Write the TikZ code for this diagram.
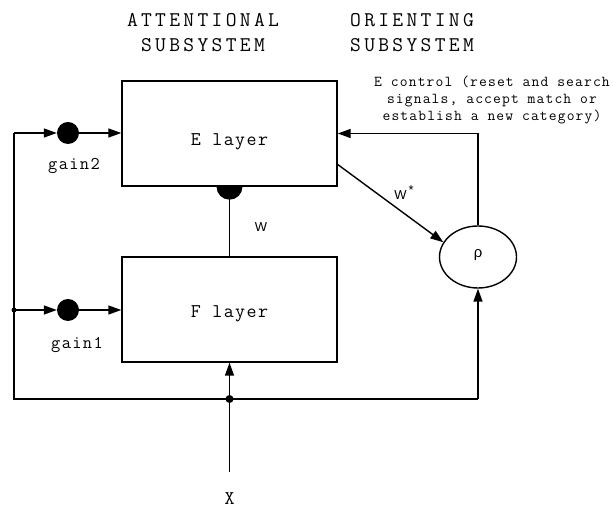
\documentclass[tikz,border=0pt]{standalone}
\usepackage{fontspec}
\newfontfamily\cour[LetterSpace=7.5]{Latin Modern Mono}
\newfontfamily\titlefont[LetterSpace=16]{Latin Modern Mono}
\newfontfamily\symfont{Liberation Sans}
\usetikzlibrary{arrows.meta,calc,shapes.geometric}
\begin{document}
\begin{tikzpicture}[x=1bp,y=1bp,
  wire/.style={line width=1.4bp},
  arr/.style={wire,-{Triangle[length=13bp,width=9bp]}},
  layerbox/.style={draw,line width=1.4bp,minimum width=215bp,minimum height=105bp,inner sep=0pt},
  gaindot/.style={circle,fill=black,minimum size=22bp,inner sep=0pt},
  title/.style={font=\titlefont\fontsize{21}{25}\selectfont,align=center},
  mono/.style={font=\cour\fontsize{19.5}{22}\selectfont},
  gainfont/.style={font=\cour\fontsize{18}{21}\selectfont},
  small/.style={font=\cour\fontsize{15.2}{16.8}\selectfont,align=center},
  symb/.style={font=\symfont\fontsize{13}{15}\selectfont}]
\useasboundingbox (0,0) rectangle (613,508);

% subsystem headings
\node[title] (att) at (203,475) {ATTENTIONAL\\SUBSYSTEM};
\node[title] (ori) at (412,475) {ORIENTING\\SUBSYSTEM};

% layers
\node[layerbox] (E) at (229.5,374.5) {};
\node[layerbox] (F) at (229.5,198.5) {};
\node[mono] (Elab) at (229.5,366) {E layer};
\node[mono] (Flab) at (229.5,194) {F layer};

% orienting unit
\node[draw,ellipse,line width=1.4bp,minimum width=77bp,minimum height=62bp,inner sep=0pt] (rho) at (478,251) {};
\node[symb,font=\symfont\fontsize{15}{17}\selectfont] (rholab) at (478,253) {ρ};

% gain controls
\node[gaindot] (g2) at (68,375) {};
\node[gaindot] (g1) at (68,198) {};
\node[gainfont] (g2lab) at (74,342) {gain2};
\node[gainfont] (g1lab) at (77,163) {gain1};

% wiring points
\coordinate (tl) at (14,375);
\coordinate (ml) at (14,198);
\coordinate (bl) at (14,109);
\coordinate (jn) at (229.5,109);
\coordinate (br) at (478,109);
\coordinate (xin) at (229.5,36);
\node[mono] (X) at (229.5,9) {X};

% input bus
\draw[line width=2.2bp] (tl) -- (bl) -- (br);
\draw[wire] (xin) -- (jn);
\fill (jn) circle[radius=4bp];
\fill (ml) circle[radius=2.5bp];
\draw[arr] (jn) -- (F.south);
\draw[arr] (br) -- (rho.south);

% gain paths
\draw[arr] (tl) -- (g2);
\draw[arr] (g2) -- (E.west |- g2);
\draw[arr] (ml) -- (g1);
\draw[arr] (g1) -- (F.west |- g1);

% bottom-up weights W
\draw[wire] (F.north) -- (E.south);
\fill ([xshift=-13bp]E.south) arc[start angle=180,end angle=360,radius=13bp] -- cycle;
\node[symb] (Wlab) at (261,281) {W};

% top-down weights W*
\draw[arr] ($(E.east)+(0,-31)$) -- (rho.157);
\node[symb] (Wslab) at (404,315) {W\,\raisebox{5bp}{*}};

% E control feedback
\draw[arr] (rho.north) |- (E.east);
\node[small] (ctl) at (492,408) {E control (reset and search\\signals, accept match or\\establish a new category)};
\end{tikzpicture}
\end{document}
